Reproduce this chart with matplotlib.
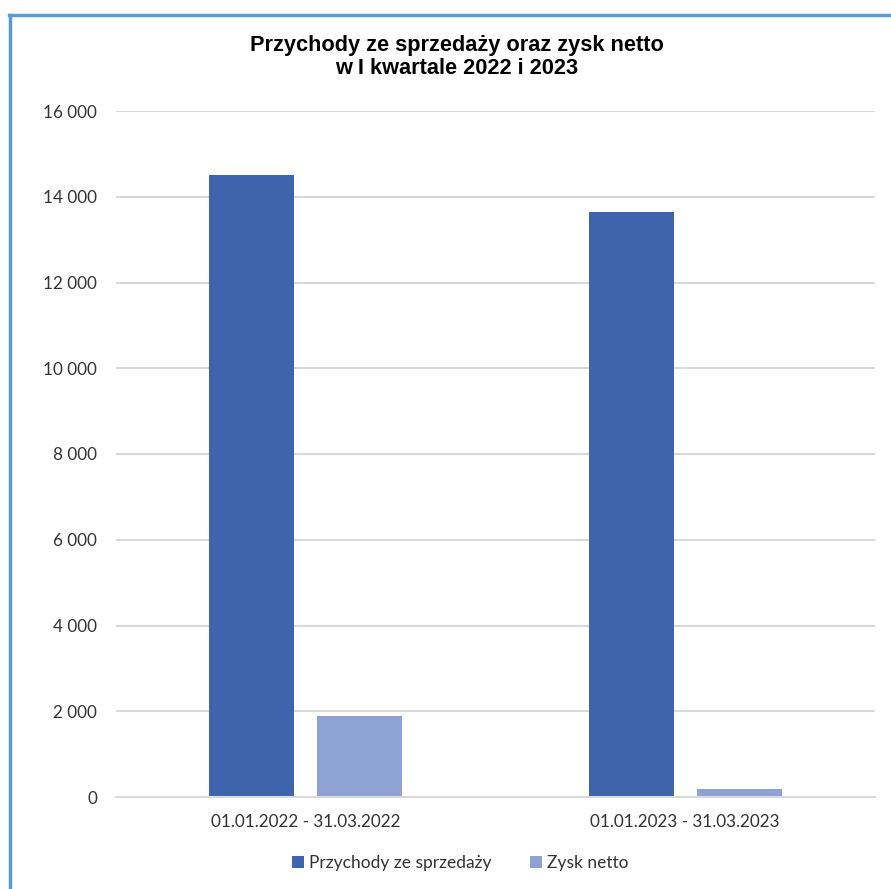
import matplotlib.pyplot as plt
from matplotlib.lines import Line2D
import numpy as np

# dane z wykresu (tys. zł)
okresy = ['01.01.2022 - 31.03.2022', '01.01.2023 - 31.03.2023']
przychody = [14500, 13650]
zysk = [1880, 180]
serie = ['Przychody ze sprzedaży', 'Zysk netto']
kolory = ['#3E64AD', '#8FA2D4']

W, H = 891, 889
fig = plt.figure(figsize=(W/100, H/100), dpi=100)
ax = fig.add_axes([116/W, 1-797/H, 759/W, 686/H])

x = np.arange(len(okresy))
szer = 85/379.5
off = 54/379.5
ax.bar(x - off, przychody, szer, color=kolory[0], label=serie[0], zorder=3)
ax.bar(x + off, zysk, szer, color=kolory[1], label=serie[1], zorder=3)

ax.set_xlim(-0.5, 1.5)
ax.set_ylim(0, 16000)
ax.set_yticks(np.arange(0, 16001, 2000))
ax.set_yticklabels([f'{v:,}'.replace(',', ' ') for v in range(0, 16001, 2000)])
ax.set_xticks(x)
ax.set_xticklabels(okresy)

ax.grid(axis='y', color='#D9D9D9', linewidth=1.5, zorder=0)
for s in ['top', 'right', 'left']:
    ax.spines[s].set_visible(False)
ax.spines['bottom'].set_color('#D9D9D9')
ax.spines['bottom'].set_linewidth(1.5)
ax.spines['bottom'].set_zorder(4)
ax.tick_params(length=0, labelsize=12.3, colors='#333333', labelfontfamily='Lato')
ax.tick_params(axis='y', pad=13.7)
ax.tick_params(axis='x', pad=12.5)

fig.text(457/W, 1-57/H, 'Przychody ze sprzedaży oraz zysk netto\nw I kwartale 2022 i 2023',
         ha='center', va='center', fontsize=15.7, fontweight='bold',
         family='Liberation Sans', linespacing=1.15)

fig.legend(loc='center', bbox_to_anchor=(460/W, 1-863/H), ncol=2, frameon=False,
           prop={'family': 'Lato', 'size': 12.5}, handlelength=0.7, handleheight=0.7,
           handletextpad=0.3, columnspacing=2.2, labelcolor='#333333')

# niebieska ramka
fig.add_artist(Line2D([10/W, 10/W], [0, 1-15/H], color='#5B9BD5', linewidth=2.5))
fig.add_artist(Line2D([9/W, 1], [1-15/H, 1-15/H], color='#5B9BD5', linewidth=2.5))

fig.savefig('out.png', dpi=100)
